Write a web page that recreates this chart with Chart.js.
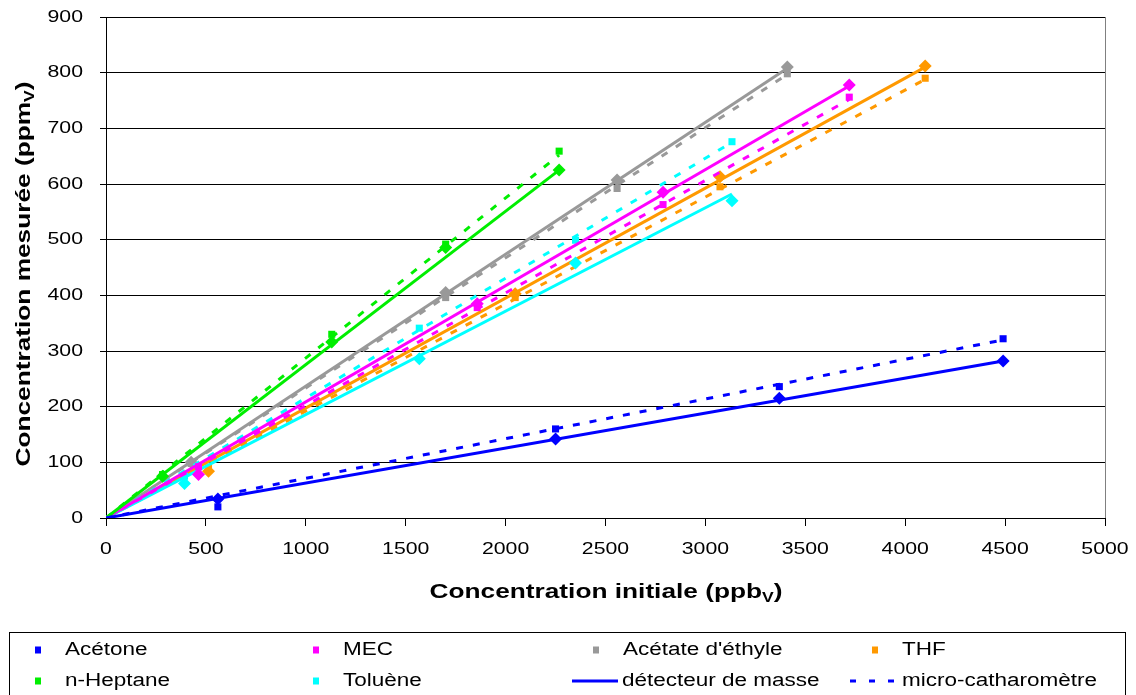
<!DOCTYPE html>
<html>
<head>
<meta charset="utf-8">
<script src="https://cdn.jsdelivr.net/npm/chart.js@4.4.1/dist/chart.umd.min.js"></script>
<style>
  html, body { margin: 0; padding: 0; background: #fff; }
  #wrap { width: 1136px; height: 695px; position: relative; }
</style>
</head>
<body>
<div id="wrap"><canvas id="chart" width="1136" height="695"></canvas></div>
<script>
// concentrations initiales (ppbV) et mesurées (ppmV)
var names = ["Acétone", "n-Heptane", "MEC", "Toluène", "Acétate d'éthyle", "THF"];
var colors = ['#0000FF', '#00EE00', '#FF00FF', '#00FFFF', '#999999', '#FF9900'];

var xAcetone = [560, 2250, 3370, 4490];
var masseAcetone = [34, 142, 215, 282];
var cathaAcetone = [20, 160, 236, 322];

var xHeptane = [283, 1130, 1700, 2268];
var masseHeptane = [75, 316, 486, 625];
var cathaHeptane = [78, 330, 492, 659];

var xMec = [463, 1858, 2788, 3720];
var masseMec = [78, 385, 585, 778];
var cathaMec = [92, 378, 563, 756];

var xToluene = [393, 1568, 2350, 3133];
var masseToluene = [62, 286, 458, 570];
var cathaToluene = [75, 341, 499, 676];

var xAcetate = [426, 1700, 2558, 3410];
var masseAcetate = [100, 405, 607, 810];
var cathaAcetate = [98, 396, 592, 798];

var xThf = [513, 2048, 3073, 4100];
var masseThf = [84, 403, 613, 812];
var cathaThf = [90, 396, 595, 790];

// fin des droites de tendance (y à x max)
var fitMasse = [282, 625, 776, 582, 808, 810];
var fitCatha = [320, 652, 752, 675, 797, 788];

var xTicks = [0, 500, 1000, 1500, 2000, 2500, 3000, 3500, 4000, 4500, 5000];
var yTicks = [0, 100, 200, 300, 400, 500, 600, 700, 800, 900];

var xs = [xAcetone, xHeptane, xMec, xToluene, xAcetate, xThf];
var masses = [masseAcetone, masseHeptane, masseMec, masseToluene, masseAcetate, masseThf];
var cathas = [cathaAcetone, cathaHeptane, cathaMec, cathaToluene, cathaAcetate, cathaThf];

function pts(x, y) {
    return x.map(function (v, i) { return {x: v, y: y[i]}; });
}

var datasets = [];
names.forEach(function (n, i) {
    var xmax = xs[i][xs[i].length - 1];
    datasets.push({
        label: n + ' masse', data: pts(xs[i], masses[i]), showLine: false,
        pointStyle: 'rectRot', pointRadius: 6.5, backgroundColor: colors[i], borderColor: colors[i], borderWidth: 0
    });
    datasets.push({
        label: n + ' catha', data: pts(xs[i], cathas[i]), showLine: false,
        pointStyle: 'rect', pointRadius: 5, backgroundColor: colors[i], borderColor: colors[i], borderWidth: 0
    });
    datasets.push({
        label: n + ' fit masse', data: [{x: 0, y: 0}, {x: xmax, y: fitMasse[i]}], showLine: true,
        pointRadius: 0, borderColor: colors[i], borderWidth: 3
    });
    datasets.push({
        label: n + ' fit catha', data: [{x: 0, y: 0}, {x: xmax, y: fitCatha[i]}], showLine: true,
        pointRadius: 0, borderColor: colors[i], borderWidth: 3, borderDash: [7, 10]
    });
});

// le texte de l'original est étiré horizontalement
var STRETCH = 1.25;
var FAMILY = '"Liberation Sans", Arial, sans-serif';

function text(ctx, s, x, y, font, align) {
    ctx.save();
    ctx.font = font;
    var w = ctx.measureText(s).width * STRETCH;
    var sx = align === 'right' ? x - w : align === 'center' ? x - w / 2 : x;
    ctx.translate(sx, y);
    ctx.scale(STRETCH, 1);
    ctx.textAlign = 'left'; ctx.textBaseline = 'middle';
    ctx.fillText(s, 0, 0);
    ctx.restore();
}

function drawSub(ctx, main, sub, tail, x, y, size) {
    var f1 = 'bold ' + size + 'px ' + FAMILY;
    var f2 = 'bold ' + Math.round(size * 0.65) + 'px ' + FAMILY;
    ctx.font = f1; var w1 = ctx.measureText(main).width; var w3 = ctx.measureText(tail).width;
    ctx.font = f2; var w2 = ctx.measureText(sub).width;
    ctx.save();
    ctx.translate(x, y);
    ctx.scale(STRETCH, 1);
    var sx = -(w1 + w2 + w3) / 2;
    ctx.textBaseline = 'middle'; ctx.textAlign = 'left'; ctx.fillStyle = '#000';
    ctx.font = f1; ctx.fillText(main, sx, 0);
    ctx.font = f2; ctx.fillText(sub, sx + w1, size * 0.3);
    ctx.font = f1; ctx.fillText(tail, sx + w1 + w2, 0);
    ctx.restore();
}

var extras = {
    id: 'extras',
    afterDraw: function (chart) {
        var ctx = chart.ctx, a = chart.chartArea;
        var sx = chart.scales.x, sy = chart.scales.y;
        ctx.save();
        // bord droit de la zone de tracé
        ctx.strokeStyle = '#808080'; ctx.lineWidth = 1;
        ctx.beginPath(); ctx.moveTo(a.right + 0.5, a.top); ctx.lineTo(a.right + 0.5, a.bottom); ctx.stroke();

        // étiquettes des graduations
        ctx.fillStyle = '#000';
        var tf = '17px ' + FAMILY;
        sy.ticks.forEach(function (t) {
            text(ctx, String(t.value), 83, sy.getPixelForValue(t.value), tf, 'right');
        });
        sx.ticks.forEach(function (t) {
            text(ctx, String(t.value), sx.getPixelForValue(t.value), 549, tf, 'center');
        });

        // titres des axes
        drawSub(ctx, 'Concentration initiale (ppb', 'V', ')', 606, 592, 21);
        ctx.save();
        ctx.translate(24, 274); ctx.rotate(-Math.PI / 2);
        drawSub(ctx, 'Concentration mesurée (ppm', 'V', ')', 0, 0, 21);
        ctx.restore();

        // légende
        ctx.strokeStyle = '#000'; ctx.lineWidth = 1;
        ctx.strokeRect(9.5, 632.5, 1116, 80);
        var colX = [38, 316, 596, 875];
        var rowY = [650, 681];
        var order = [0, 2, 4, 5, 1, 3];
        var lf = '18px ' + FAMILY;
        order.forEach(function (k, j) {
            var cx = colX[j % 4], cy = rowY[Math.floor(j / 4)];
            ctx.fillStyle = colors[k];
            ctx.fillRect(cx - 3, cy - 3.5, 6, 7);
            ctx.fillStyle = '#000';
            text(ctx, names[k], cx + 27, cy, lf, 'left');
        });
        ctx.strokeStyle = '#0000FF'; ctx.lineWidth = 3;
        ctx.beginPath(); ctx.moveTo(572, 681); ctx.lineTo(618, 681); ctx.stroke();
        ctx.setLineDash([6, 13]);
        ctx.beginPath(); ctx.moveTo(850, 681); ctx.lineTo(898, 681); ctx.stroke();
        ctx.setLineDash([]);
        ctx.fillStyle = '#000';
        text(ctx, 'détecteur de masse', 622, 681, lf, 'left');
        text(ctx, 'micro-catharomètre', 902, 681, lf, 'left');
        ctx.restore();
    }
};

new Chart(document.getElementById('chart').getContext('2d'), {
    type: 'scatter',
    data: {datasets: datasets},
    options: {
        responsive: false,
        animation: false,
        layout: {padding: {left: 0, top: 17, right: 31, bottom: 0}},
        plugins: {legend: {display: false}, tooltip: {enabled: false}},
        scales: {
            x: {
                type: 'linear', min: 0, max: 5000,
                afterBuildTicks: function (s) { s.ticks = xTicks.map(function (v) { return {value: v}; }); },
                afterFit: function (s) { s.height = 177; },
                grid: {drawOnChartArea: false, drawTicks: true, tickLength: 8, color: '#000'},
                border: {color: '#000', width: 1},
                ticks: {display: false}
            },
            y: {
                type: 'linear', min: 0, max: 900,
                afterBuildTicks: function (s) { s.ticks = yTicks.map(function (v) { return {value: v}; }); },
                afterFit: function (s) { s.width = 106; },
                grid: {color: '#000', tickLength: 6, drawTicks: true},
                border: {color: '#000', width: 1},
                ticks: {display: false}
            }
        }
    },
    plugins: [extras]
});
</script>
</body>
</html>
